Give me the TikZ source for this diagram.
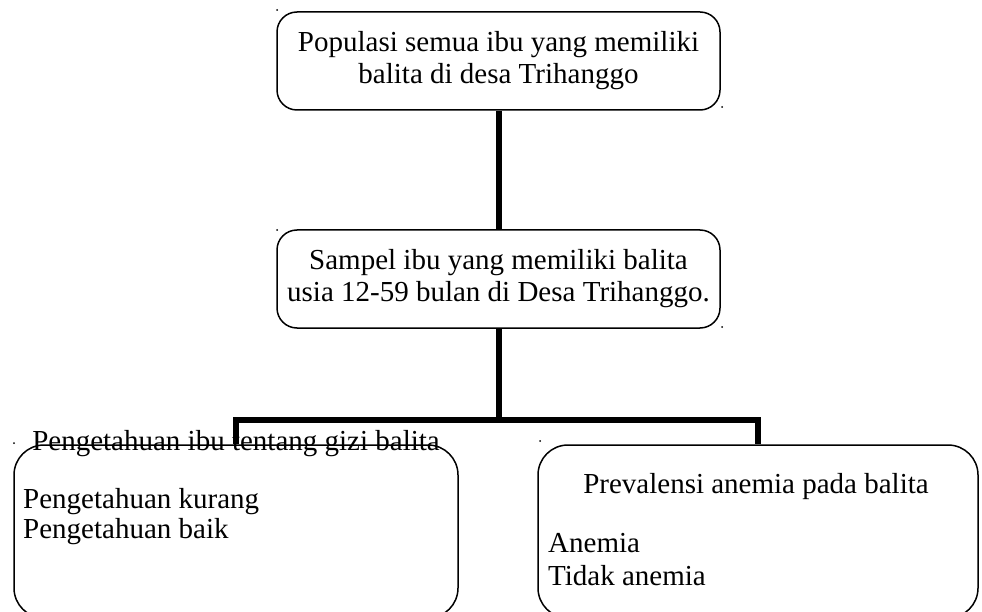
\documentclass[tikz,border=0pt]{standalone}
\usepackage{fontspec}
\setmainfont{Liberation Serif}

\begin{document}
\begin{tikzpicture}[
  x=1pt, y=-1pt,
  every node/.style={font=\fontsize{29}{32}\selectfont},
  box/.style={draw, line width=1.5pt, rounded corners=20pt, align=center,
    inner sep=0pt, minimum width=443pt, minimum height=98pt},
  bigbox/.style={draw, line width=1.5pt, rounded corners=30pt, inner sep=0pt,
    minimum width=444pt, minimum height=173pt},
  item/.style={anchor=base west, inner sep=0pt},
  title/.style={anchor=base, inner sep=0pt},
  link/.style={line width=6pt, line join=miter},
  anchordot/.style={fill=black}
]

\path[use as bounding box] (0,0) rectangle (982,612);
\clip (0,0) rectangle (982,612);

% ------------------------------------------------------------
% Population and sample
% ------------------------------------------------------------
\node[box] (populasi) at (498.5,61)
  {Populasi semua ibu yang memiliki\\balita di desa Trihanggo};
\node[box] (sampel) at (498.5,279)
  {Sampel ibu yang memiliki balita\\usia 12-59 bulan di Desa Trihanggo.};

% ------------------------------------------------------------
% Variables
% ------------------------------------------------------------
\node[bigbox] (pengetahuan) at (236,531.5) {};
\node[bigbox, minimum width=440pt] (prevalensi) at (758,531.5) {};

\node[title] (judulkiri) at (236,450) {Pengetahuan ibu tentang gizi balita};
\node[item] (kurang) at (23,508) {Pengetahuan kurang};
\node[item] (baik) at (23,538) {Pengetahuan baik};

\node[title] (judulkanan) at (756,493) {Prevalensi anemia pada balita};
\node[item] (anemia) at (548,552) {Anemia};
\node[item] (tidak) at (548,585) {Tidak anemia};

% ------------------------------------------------------------
% Connectors
% ------------------------------------------------------------
\coordinate (junction) at (498.5,420);
\draw[link] (populasi) -- (sampel);
\draw[link] (sampel) -- (junction);
\draw[link] (pengetahuan.north) |- (junction) -| (prevalensi.north);

% small text-box anchors
\fill[anchordot] (277,10) circle (1pt);
\fill[anchordot] (722,107) circle (1pt);
\fill[anchordot] (277,230) circle (1pt);
\fill[anchordot] (722,327) circle (1pt);
\fill[anchordot] (14,443) circle (1pt);
\fill[anchordot] (540,441) circle (1pt);

\end{tikzpicture}
\end{document}
